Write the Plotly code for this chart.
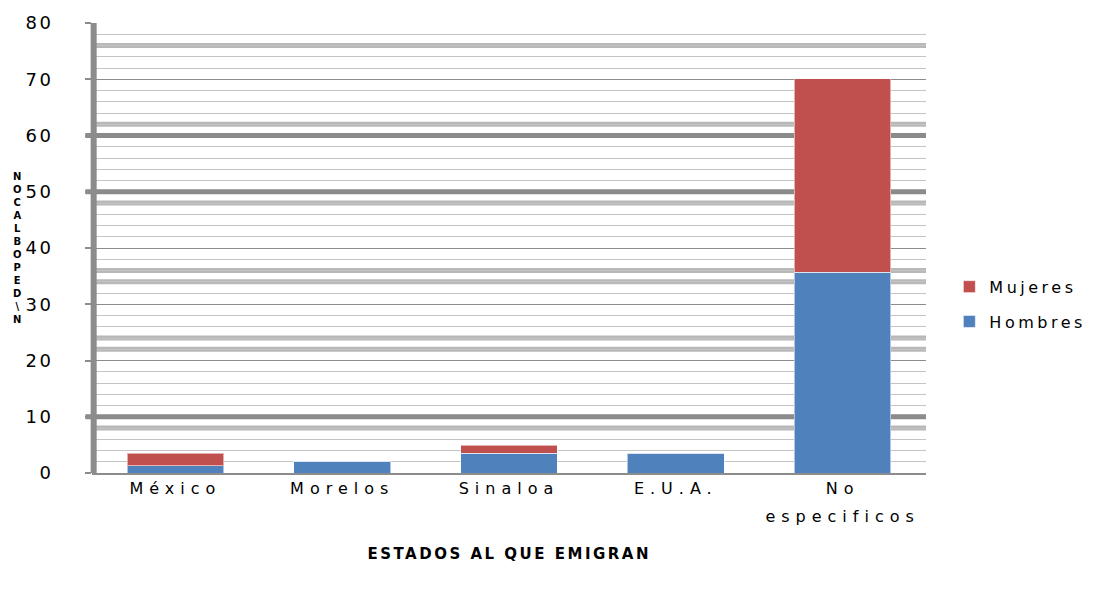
import plotly.graph_objects as go

categories = ["México", "Morelos", "Sinaloa", "E.U.A.", "No<br>especificos"]
hombres = [1.3, 2.1, 3.5, 3.5, 35.7]
mujeres = [2.2, 0, 1.4, 0, 34.4]
y_ticks = [0, 10, 20, 30, 40, 50, 60, 70, 80]
y_title_letters = ["N", "O", "C", "A", "L", "B", "O", "P", "E", "D", "\\", "N"]
x_title = "ESTADOS AL QUE EMIGRAN"

# decorative heavy rule lines seen in the reference (styling)
heavy_dark = [10, 50, 60]
heavy_light = [8, 22, 24, 34, 36, 48, 62, 76]

FONT = "DejaVu Sans"

fig = go.Figure()
fig.add_trace(go.Bar(
    x=categories, y=hombres, name="Hombres", legendgroup="h", legendrank=2,
    marker=dict(color="#4F81BD", line=dict(color="rgba(255,255,255,0.55)", width=1)),
))
fig.add_trace(go.Bar(
    x=categories, y=mujeres, name="Mujeres", legendgroup="m", legendrank=1,
    marker=dict(color="#C0504D", line=dict(color="rgba(255,255,255,0.55)", width=1)),
))

shapes = []
for v in heavy_light:
    shapes.append(dict(type="line", xref="paper", yref="y", x0=0, x1=1, y0=v, y1=v,
                       line=dict(color="#b8b8b8", width=5), layer="between"))
for v in heavy_dark:
    shapes.append(dict(type="line", xref="paper", yref="y", x0=-0.008, x1=1, y0=v, y1=v,
                       line=dict(color="#8a8a8a", width=5), layer="between"))
# thick vertical axis rule
shapes.append(dict(type="line", xref="paper", yref="paper", x0=0.002, x1=0.002, y0=0, y1=1,
                   line=dict(color="#8c8c8c", width=6), layer="above"))

fig.update_layout(
    width=1115, height=594,
    margin=dict(l=92, r=189, t=16, b=121),
    paper_bgcolor="white", plot_bgcolor="white",
    barmode="stack", bargap=0.42,
    font=dict(family=FONT, color="#000000"),
    showlegend=True,
    legend=dict(x=1.028, y=0.375, xanchor="left", yanchor="middle",
                traceorder="grouped", tracegroupgap=11,
                font=dict(family=FONT, size=16, color="#000000")),
    shapes=shapes,
    annotations=[
        dict(text="<br>".join(y_title_letters), xref="paper", yref="paper",
             x=-0.089, y=0.5, xanchor="center", yanchor="middle", showarrow=False,
             font=dict(family=FONT, size=10, color="#000000", weight="bold")),
        dict(text=x_title, xref="paper", yref="paper", x=0.5, y=-0.155,
             xanchor="center", yanchor="top", showarrow=False,
             font=dict(family=FONT, size=15, color="#000000", weight="bold")),
    ],
)

fig.update_yaxes(
    range=[0, 80], tickvals=y_ticks, ticktext=[str(t) for t in y_ticks],
    showgrid=True, gridcolor="#8c8c8c", gridwidth=1,
    minor=dict(dtick=2, showgrid=True, gridcolor="#c4c4c4", gridwidth=1),
    showline=False,
    ticks="outside", ticklen=6, tickcolor="#8c8c8c", tickwidth=1.5,
    ticklabelstandoff=28,
    tickfont=dict(family=FONT, size=18, color="#000000"),
    zeroline=False, fixedrange=True,
)
fig.update_xaxes(
    showline=True, linecolor="#8c8c8c", linewidth=1.5,
    ticks="", showgrid=False,
    tickfont=dict(family=FONT, size=16, color="#000000"),
    fixedrange=True,
)

post = """
document.body.style.margin='0';
var gd = document.getElementById('{plot_id}');
function sp(){
  gd.querySelectorAll('.ytick text').forEach(function(t){t.style.letterSpacing='2.5px';});
  gd.querySelectorAll('.xtick text').forEach(function(t){
    t.style.letterSpacing='6px';
    var ls = t.querySelectorAll('tspan.line');
    if (ls.length > 1) { ls[1].setAttribute('dy', '1.75em'); }
  });
  gd.querySelectorAll('.legend .scrollbox').forEach(function(s){s.removeAttribute('clip-path');});
  gd.querySelectorAll('.legendtext').forEach(function(t){t.style.letterSpacing='3.5px';});
  gd.querySelectorAll('.annotation-text').forEach(function(t){
    if (t.textContent.indexOf('ESTADOS') >= 0) { t.style.letterSpacing='2.5px'; }
  });
}
sp();
gd.on('plotly_afterplot', sp);
"""

fig.write_html("out.html", post_script=post, config={"displayModeBar": False})
